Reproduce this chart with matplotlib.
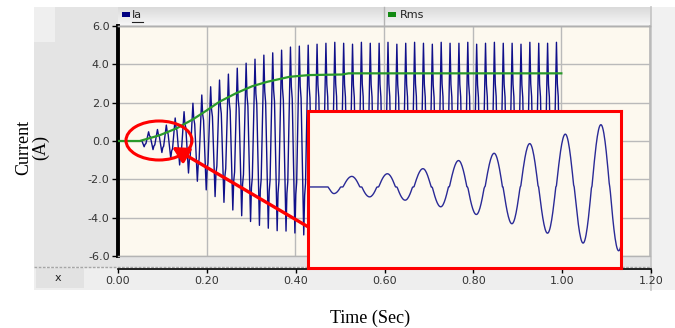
import numpy as np
import matplotlib
matplotlib.use('Agg')
import matplotlib.pyplot as plt
from matplotlib.patches import Rectangle, Ellipse, FancyArrowPatch, ArrowStyle
from matplotlib.lines import Line2D
from matplotlib.colors import LinearSegmentedColormap

W, H = 675, 328

# ---------------- data ----------------
x_ticks = [0.0, 0.2, 0.4, 0.6, 0.8, 1.0, 1.2]
x_tick_labels = ['0.00', '0.20', '0.40', '0.60', '0.80', '1.00', '1.20']
y_ticks = [6, 4, 2, 0, -2, -4, -6]
y_tick_labels = ['6.0', '4.0', '2.0', '0.0', '-2.0', '-4.0', '-6.0']

ia_onset = 0.054          # s, current starts
ia_end = 1.0              # s, record ends
ia_period = 0.02          # s, 50 Hz
ia_first_trough = 0.059   # s
ia_first_peak = 0.069     # s
ia_peaks = [0.48, 0.6, 0.83, 1.2, 1.53, 1.97, 2.4, 2.83, 3.18, 3.49, 3.8,
            4.06, 4.27, 4.48, 4.6, 4.74, 4.9, 4.95, 5.0, 5.05, 5.1,
            5.15, 5.1, 5.05, 5.15, 5.1, 5.1, 5.15, 5.05, 5.1, 5.15, 5.1,
            5.05, 5.15, 5.1, 5.1, 5.15, 5.05, 5.1, 5.15, 5.1, 5.1, 5.05,
            5.15, 5.1, 5.1, 5.15]
ia_troughs = [-0.3, -0.45, -0.6, -0.9, -1.25, -1.67, -2.1, -2.55, -2.9,
              -3.2, -3.6, -3.9, -4.2, -4.4, -4.55, -4.68, -4.7, -4.8, -4.9,
              -4.95, -4.95, -5.0, -4.95, -4.95, -5.0, -4.95, -4.95, -5.0,
              -4.95, -4.95, -5.0, -4.95, -4.95, -5.0, -4.95, -4.95, -5.0,
              -4.95, -4.95, -5.0, -4.95, -4.95, -5.0, -4.95, -4.95, -5.0,
              -4.95, -4.95]
# notch seen on each half-cycle of the distorted wave (fraction of the half
# cycle after an extreme, level relative to that extreme)
notch_frac = [0.2, 0.4]
notch_level = [0.58, 0.45]

rms_t = [0.0, 0.049, 0.094, 0.132, 0.169, 0.199, 0.229, 0.267, 0.303,
         0.337, 0.387, 0.431, 0.506, 0.52, 1.0]
rms_v = [0.0, 0.0, 0.3, 0.66, 1.13, 1.58, 2.05, 2.5, 2.86, 3.09, 3.35,
         3.44, 3.47, 3.53, 3.53]

series_names = ['Ia', 'Rms']
x_label = 'Time (Sec)'
y_label = 'Current\n(A)'

# ---------------- Ia extremes in time order ----------------
ext_t = [0.0, ia_onset]
ext_v = [0.0, 0.0]
pts = []
for k, v in enumerate(ia_troughs):
    pts.append((ia_first_trough + k * ia_period, v))
for k, v in enumerate(ia_peaks):
    pts.append((ia_first_peak + k * ia_period, v))
pts.sort()
for t, v in pts:
    if t <= ia_end:
        ext_t.append(t)
        ext_v.append(v)

# main trace: extremes with the notch after each one
main_t, main_v = [ext_t[0], ext_t[1]], [ext_v[0], ext_v[1]]
for i in range(2, len(ext_t)):
    main_t.append(ext_t[i])
    main_v.append(ext_v[i])
    if i + 1 < len(ext_t):
        dt = ext_t[i + 1] - ext_t[i]
        for f, lv in zip(notch_frac, notch_level):
            main_t.append(ext_t[i] + f * dt)
            main_v.append(ext_v[i] * lv)

# smooth rendering of the same extremes for the magnified inset
dead = 0.1
ia_t, ia_c = [], []
for i in range(len(ext_t) - 1):
    t0, t1 = ext_t[i], ext_t[i + 1]
    v0 = np.sign(ext_v[i]) * (abs(ext_v[i]) + dead) if ext_v[i] != 0 else 0.0
    v1 = np.sign(ext_v[i + 1]) * (abs(ext_v[i + 1]) + dead) if ext_v[i + 1] != 0 else 0.0
    s = np.linspace(0, 1, 30, endpoint=False)
    ia_t.extend(t0 + (t1 - t0) * s)
    ia_c.extend(v0 + (v1 - v0) * (1 - np.cos(np.pi * s)) / 2)
ia_t.append(ext_t[-1])
ia_c.append(np.sign(ext_v[-1]) * (abs(ext_v[-1]) + dead))
ia_t = np.array(ia_t)
ia_c = np.array(ia_c)
ia_v = np.sign(ia_c) * np.maximum(np.abs(ia_c) - dead, 0)

# ---------------- figure ----------------
fig = plt.figure(figsize=(W / 100, H / 100), dpi=100)
fig.patch.set_facecolor('white')


def fx(px):
    return px / W


def fy(py):
    return 1 - py / H


def rect(x0, y0, x1, y1, color, z=-5, ec='none', lw=0):
    fig.add_artist(Rectangle((fx(x0), fy(y1)), fx(x1) - fx(x0), fy(y0) - fy(y1),
                             transform=fig.transFigure, facecolor=color,
                             edgecolor=ec, lw=lw, zorder=z))


# background panels
rect(34, 7, 651, 290, '#e4e4e4')
rect(34, 7, 55, 42, '#efefef', z=-4)
rect(651, 7, 675, 290, '#f1f1f1', z=-4)
rect(34, 267, 651, 290, '#eeeeee', z=-4)
rect(36, 268, 84, 288, '#e2e2e2', z=-3)
fig.add_artist(Line2D([fx(651), fx(651)], [fy(7), fy(290)], transform=fig.transFigure,
                      color='#c4c4c4', lw=1.2, zorder=-2))
fig.add_artist(Line2D([fx(34), fx(651)], [fy(266.5), fy(266.5)], transform=fig.transFigure,
                      color='#a6a6a6', lw=1.0, ls=(0, (2, 1)), zorder=-2))
fig.text(fx(58), fy(278), 'x', ha='center', va='center', fontsize=8, color='#222222')

# legend bar
ax_leg = fig.add_axes([fx(118), fy(25), fx(650) - fx(118), fy(7) - fy(25)])
grad = LinearSegmentedColormap.from_list('g', ['#dadada', '#f6f6f6'])
ax_leg.imshow(np.linspace(0, 1, 32)[:, None][::-1], aspect='auto', cmap=grad,
              extent=[0, 1, 0, 1], origin='lower')
ax_leg.set_xlim(0, 1)
ax_leg.set_ylim(0, 1)
ax_leg.set_axis_off()
fig.add_artist(Line2D([fx(384), fx(384)], [fy(7), fy(25)], transform=fig.transFigure,
                      color='#b4b4b4', lw=1.0, zorder=3))
fig.add_artist(Line2D([fx(118), fx(650)], [fy(25.5), fy(25.5)], transform=fig.transFigure,
                      color='#b0b0b0', lw=1.0, zorder=3))
rect(121.5, 12.5, 129.5, 17, '#000080', z=4)
fig.text(fx(132), fy(15), series_names[0], ha='left', va='center', fontsize=8,
         color='#222222', zorder=4)
fig.add_artist(Line2D([fx(132), fx(143)], [fy(22), fy(22)], transform=fig.transFigure,
                      color='#222222', lw=0.8, zorder=4))
rect(388, 12.5, 396, 17, '#138a13', z=4)
fig.text(fx(400), fy(15), series_names[1], ha='left', va='center', fontsize=8,
         color='#222222', zorder=4)

# main plot
ax = fig.add_axes([fx(118), fy(256), fx(650) - fx(118), fy(26) - fy(256)])
ax.set_facecolor('#fdf9ef')
ax.plot(main_t, main_v, color='#10108a', lw=1.0, zorder=3)
ax.plot(rms_t, rms_v, color='#2a9a2a', lw=1.6, zorder=4)
ax.set_xlim(0, 1.2)
ax.set_ylim(-6, 6)
ax.set_xticks(x_ticks)
ax.set_yticks(y_ticks)
ax.set_yticklabels(y_tick_labels, fontsize=8, color='#333333')
ax.tick_params(axis='x', bottom=False, labelbottom=False)
ax.tick_params(axis='y', direction='out', length=4, width=1, pad=2, color='black')
ax.grid(True, color='#bababa', lw=1.0)
ax.set_axisbelow(True)
for s in ['top', 'bottom']:
    ax.spines[s].set_color('#b4b4b4')
    ax.spines[s].set_linewidth(1.0)
ax.spines['right'].set_color('#b8b8b8')
ax.spines['right'].set_linewidth(1.2)
ax.spines['left'].set_color('black')
ax.spines['left'].set_linewidth(2.8)

# x-axis strip
ax_x = fig.add_axes([fx(118), fy(269), fx(651) - fx(118), 0.0005])
ax_x.set_facecolor('none')
for s in ['top', 'left', 'right']:
    ax_x.spines[s].set_visible(False)
ax_x.spines['bottom'].set_color('black')
ax_x.spines['bottom'].set_linewidth(1.2)
ax_x.set_xlim(0, 1.2)
ax_x.set_yticks([])
ax_x.set_xticks(x_ticks)
ax_x.set_xticklabels(x_tick_labels, fontsize=8, color='#333333')
ax_x.tick_params(axis='x', direction='out', length=3, width=1, pad=2)

# axis titles
fig.text(fx(32), fy(147), y_label, rotation=90, ha='center', va='center',
         family='Liberation Serif', fontsize=13, linespacing=1.0,
         multialignment='center')
fig.text(fx(370), fy(318), x_label, ha='center', va='center',
         family='Liberation Serif', fontsize=13)

# highlight ellipse and arrow
fig.add_artist(Ellipse((fx(159), fy(140.5)), 66 / W, 39 / H, transform=fig.transFigure,
                       fill=False, edgecolor='#ff0000', lw=2.2, zorder=5))
fig.add_artist(FancyArrowPatch((fx(322), fy(235)), (fx(172), fy(147)),
                               transform=fig.transFigure,
                               arrowstyle=ArrowStyle('-|>', head_length=0.8, head_width=0.42),
                               mutation_scale=12, color='#ff0000', lw=2.4,
                               shrinkA=0, shrinkB=0, zorder=5))

# inset zoom
ins = fig.add_axes([fx(308), fy(268), fx(621) - fx(308), fy(111) - fy(268)])
ins.set_zorder(10)
ins.set_facecolor('#fdf9ef')
ins.plot(ia_t, ia_v, color='#2a2a96', lw=1.0)
ins.set_xlim(0.0444, 0.2203)
ins.set_ylim(-3.68, 3.45)
ins.set_xticks([])
ins.set_yticks([])
for s in ins.spines.values():
    s.set_color('#ff0000')
    s.set_linewidth(2.2)

fig.savefig('out.png', dpi=100, facecolor=fig.get_facecolor())
